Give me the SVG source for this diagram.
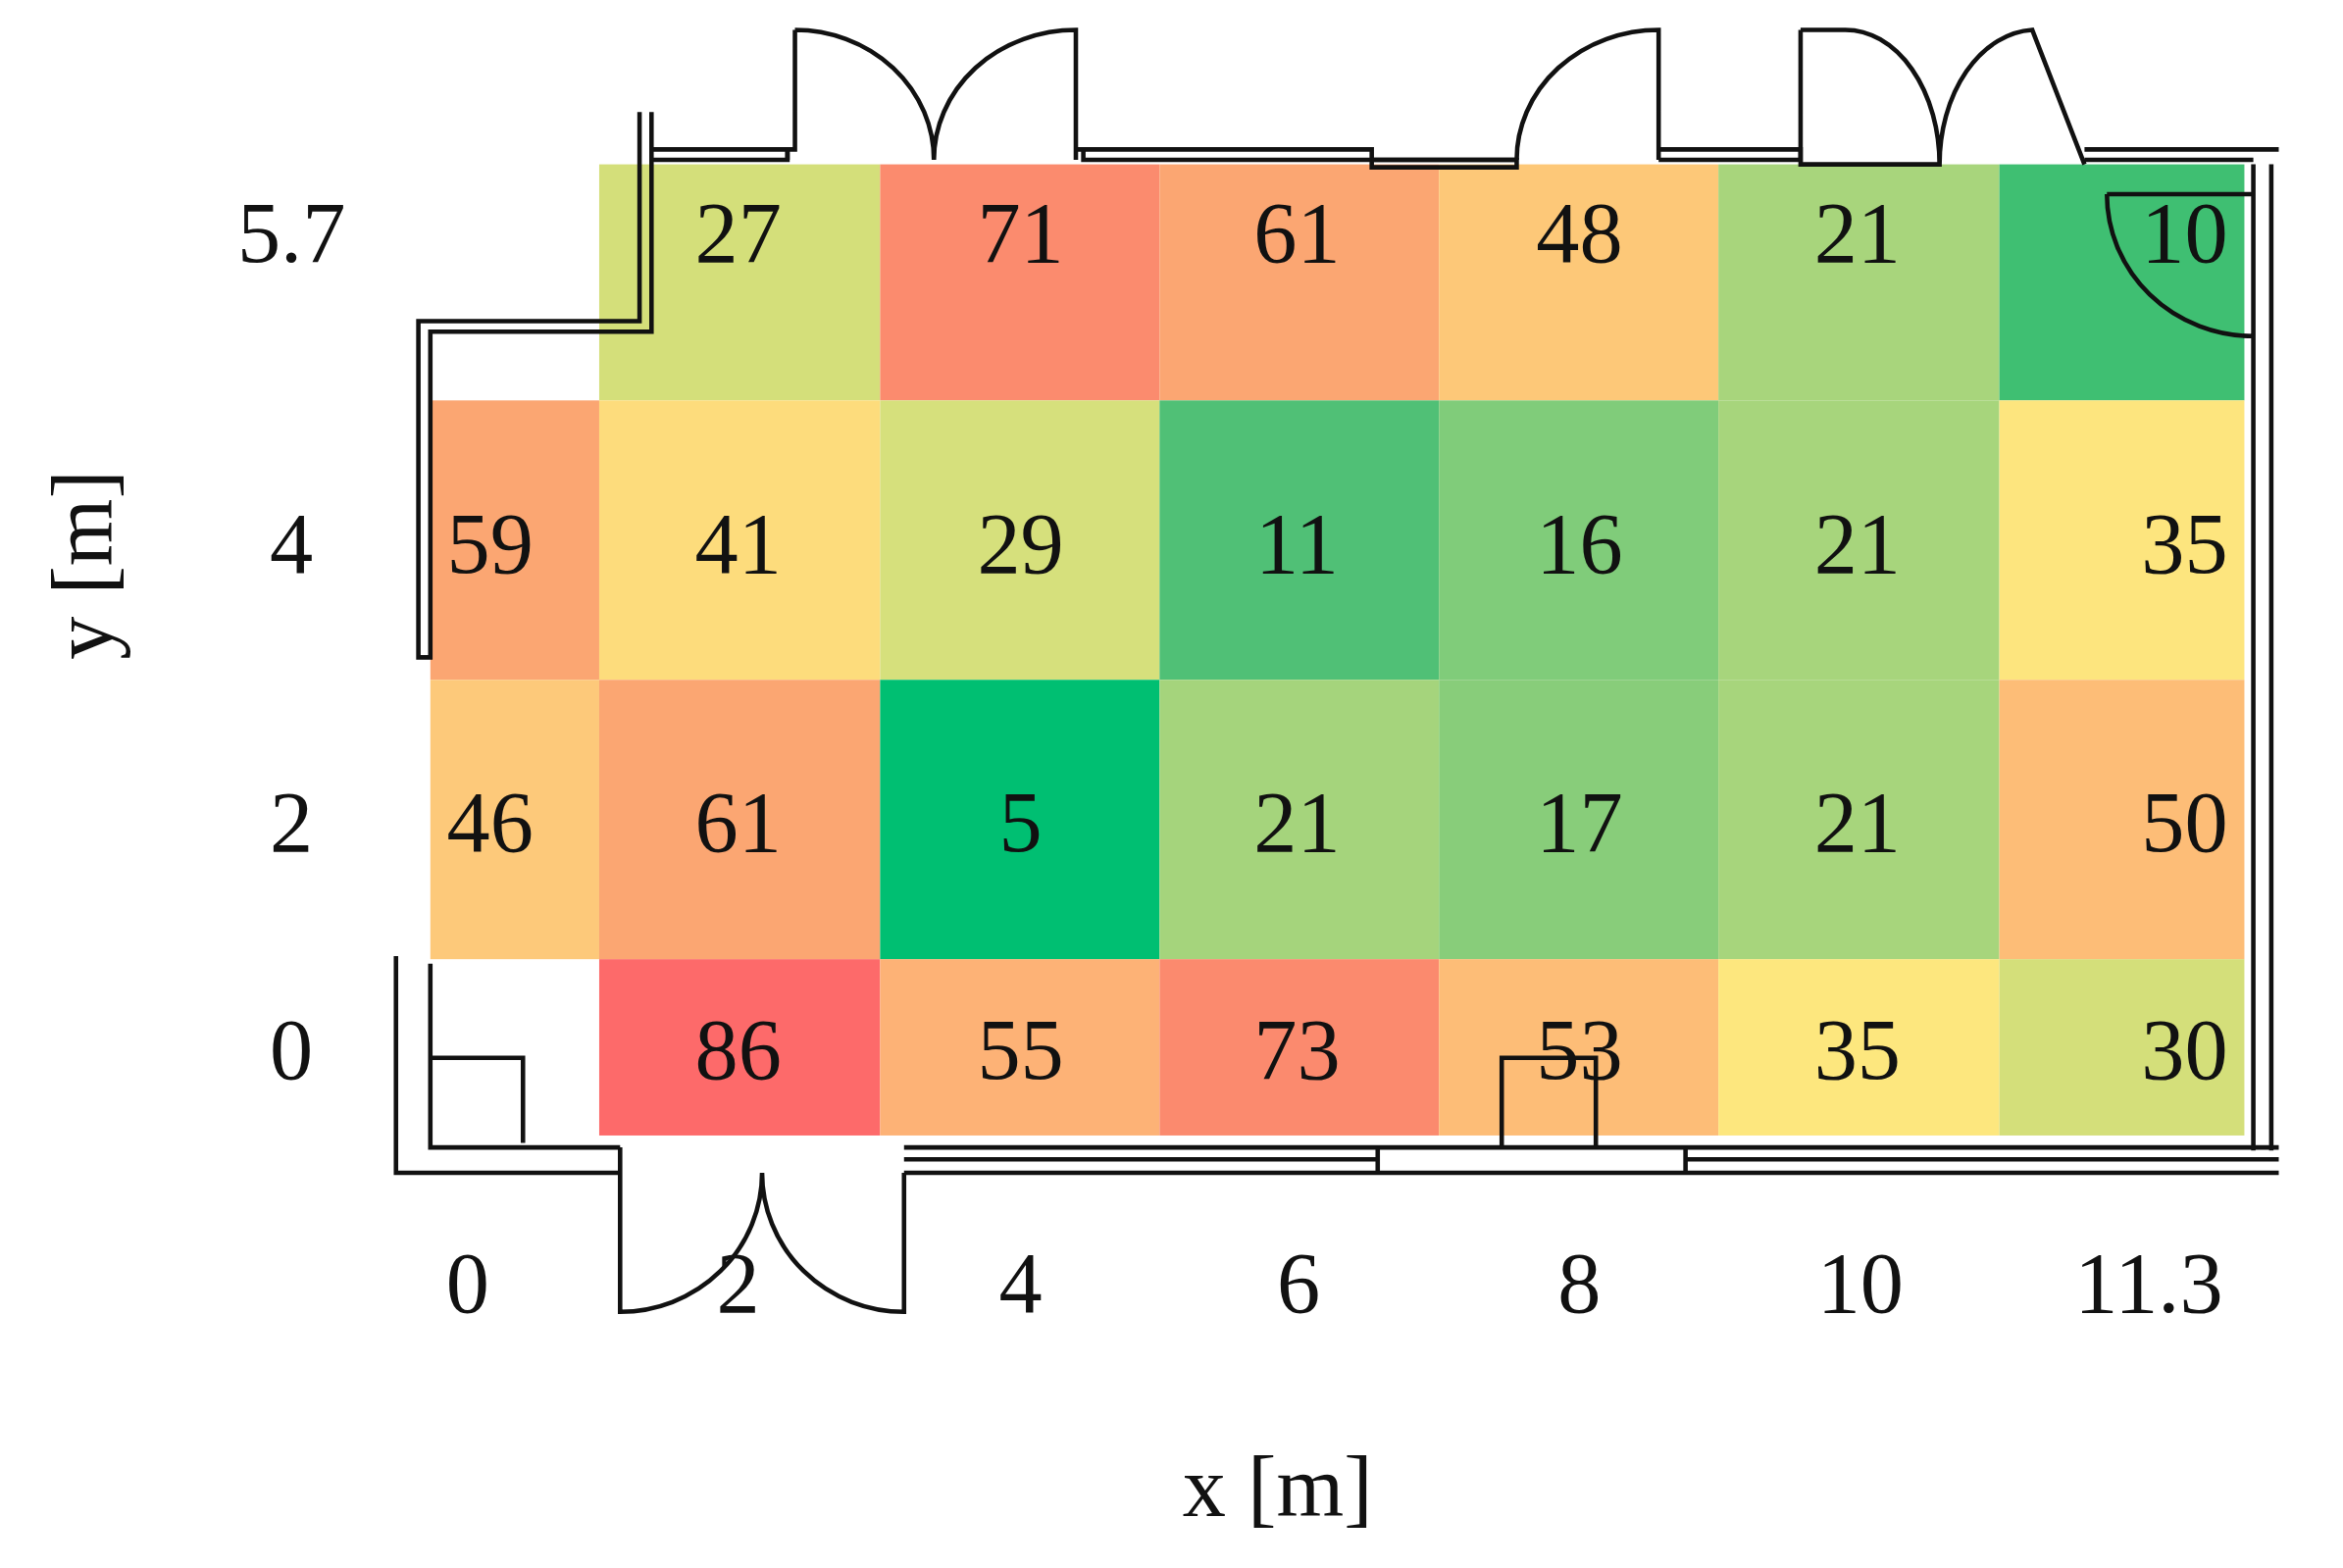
<svg xmlns="http://www.w3.org/2000/svg" width="2389" height="1599" viewBox="0 0 2389 1599">
<style>
.v{font-family:"Liberation Serif",serif;font-size:58px;fill:#111;text-anchor:middle}
.w{fill:none;stroke:#111;stroke-width:3}
</style>
<rect width="2389" height="1599" fill="#fff"/>
<g transform="scale(1.5236)">
<g id="cells">
<rect x="401" y="110" width="188" height="158" fill="#d4df7a"/>
<rect x="589" y="110" width="187" height="158" fill="#fb8b6e"/>
<rect x="776" y="110" width="187" height="158" fill="#fba672"/>
<rect x="963" y="110" width="187" height="158" fill="#fdc878"/>
<rect x="1150" y="110" width="188" height="158" fill="#a8d57c"/>
<rect x="1338" y="110" width="164" height="158" fill="#3fbf72"/>
<rect x="288" y="268" width="113" height="187" fill="#fba672"/>
<rect x="401" y="268" width="188" height="187" fill="#fddc7c"/>
<rect x="589" y="268" width="187" height="187" fill="#d6e07c"/>
<rect x="776" y="268" width="187" height="187" fill="#50c076"/>
<rect x="963" y="268" width="187" height="187" fill="#80cc7a"/>
<rect x="1150" y="268" width="188" height="187" fill="#a7d57c"/>
<rect x="1338" y="268" width="164" height="187" fill="#fde57e"/>
<rect x="288" y="455" width="113" height="187" fill="#fdc97a"/>
<rect x="401" y="455" width="188" height="187" fill="#fba672"/>
<rect x="589" y="455" width="187" height="187" fill="#00bf72"/>
<rect x="776" y="455" width="187" height="187" fill="#a5d47c"/>
<rect x="963" y="455" width="187" height="187" fill="#88cd7a"/>
<rect x="1150" y="455" width="188" height="187" fill="#a7d57c"/>
<rect x="1338" y="455" width="164" height="187" fill="#fdbd77"/>
<rect x="401" y="642" width="188" height="118" fill="#fd6a6a"/>
<rect x="589" y="642" width="187" height="118" fill="#fdb276"/>
<rect x="776" y="642" width="187" height="118" fill="#fb8a6e"/>
<rect x="963" y="642" width="187" height="118" fill="#fdbd77"/>
<rect x="1150" y="642" width="188" height="118" fill="#fde77e"/>
<rect x="1338" y="642" width="164" height="118" fill="#d4df7a"/>
</g>
<g id="walls">
<path class="w" d="M428 75V215H280V440H288V222H436V75M436 100H527V107H436"/>
<path class="w" d="M527 107V100H532V20M532 20A93 87 0 0 1 625 107A95 87 0 0 1 720 20V107M720 100H918V112H1015V107H725V100"/>
<path class="w" d="M918 107H1015M1015 107A95 87 0 0 1 1110 20V107M1110 100H1205V107H1110"/>
<path class="w" d="M1205 20H1235A63 90 0 0 1 1298 110H1205V20M1298 110A65 90 0 0 1 1360 20L1395 110"/>
<path class="w" d="M1395 100H1525M1395 107H1508M1508 110V770M1520 110V770M1410 130H1508M1410 130A98 95 0 0 0 1508 225"/>
<path class="w" d="M265 640V785H415M288 645V768H415M288 708H350V765M605 768H1525M605 785H1525M605 776H922M1128 776H1525M922 768V785M1128 768V785"/>
<path class="w" d="M415 768V878A95 93 0 0 0 510 785A95 93 0 0 0 605 878V785"/>
<path class="w" d="M1005 768V708H1068V768"/>
</g>
<g id="values" class="v">
<text x="494" y="175">27</text><text x="683" y="175">71</text><text x="868" y="175">61</text><text x="1057" y="175">48</text><text x="1243" y="175">21</text><text x="1462" y="175">10</text>
<text x="328" y="383">59</text><text x="494" y="383">41</text><text x="683" y="383">29</text><text x="868" y="383">11</text><text x="1057" y="383">16</text><text x="1243" y="383">21</text><text x="1462" y="383">35</text>
<text x="328" y="570">46</text><text x="494" y="570">61</text><text x="683" y="570">5</text><text x="868" y="570">21</text><text x="1057" y="570">17</text><text x="1243" y="570">21</text><text x="1462" y="570">50</text>
<text x="494" y="722">86</text><text x="683" y="722">55</text><text x="868" y="722">73</text><text x="1057" y="722">53</text><text x="1243" y="722">35</text><text x="1462" y="722">30</text>
</g>
<g id="axes" class="v">
<text x="195" y="175">5.7</text><text x="195" y="383">4</text><text x="195" y="570">2</text><text x="195" y="722">0</text>
<text x="313" y="878">0</text><text x="494" y="878">2</text><text x="683" y="878">4</text><text x="869" y="878">6</text><text x="1057" y="878">8</text><text x="1245" y="878">10</text><text x="1438" y="878">11.3</text>
<text x="855" y="1015">x [m]</text>
<text transform="translate(75 378) rotate(-90)">y [m]</text>
</g>
</g>
</svg>
